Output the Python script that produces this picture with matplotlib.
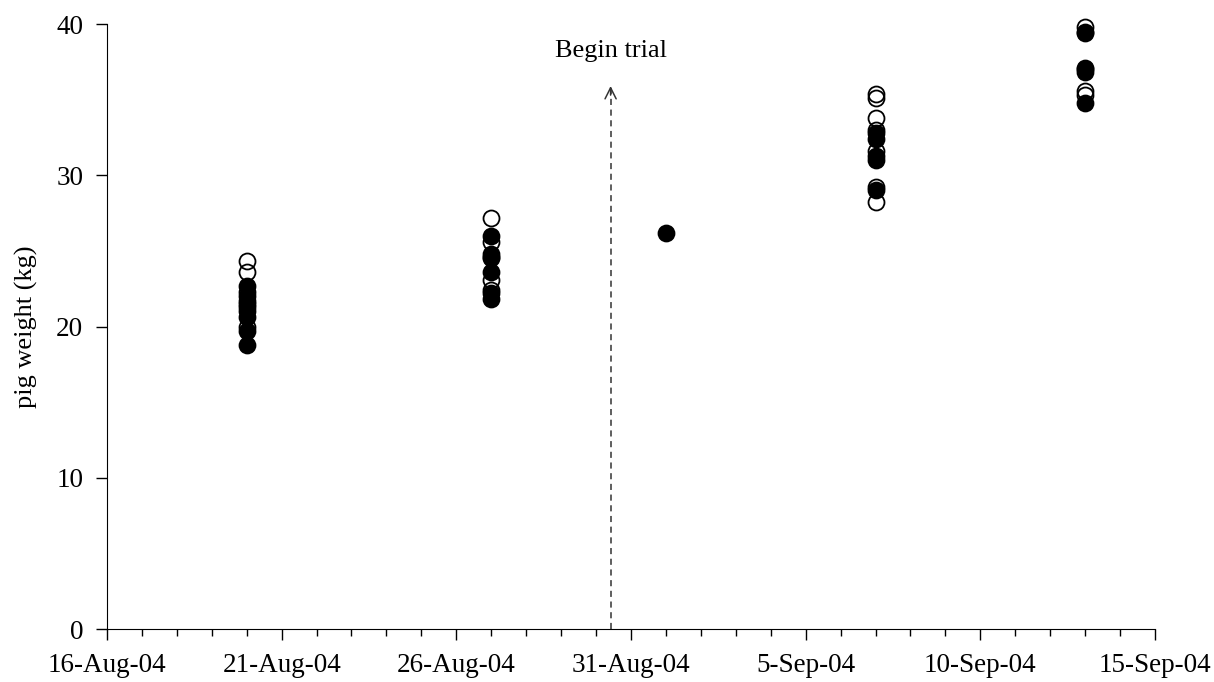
import datetime as dt
import matplotlib
matplotlib.use('Agg')
import matplotlib.pyplot as plt
import matplotlib.dates as mdates
from matplotlib.ticker import FuncFormatter

plt.rcParams['font.family'] = ['Liberation Serif', 'DejaVu Serif']

# weigh days and pig weights (kg), open = one group, filled = the other
dates = [dt.datetime(2004, 8, 20), dt.datetime(2004, 8, 27), dt.datetime(2004, 9, 1),
         dt.datetime(2004, 9, 7), dt.datetime(2004, 9, 13)]
open_w = [
    [24.3, 23.6, 22.3, 21.5, 20.0],
    [27.2, 25.6, 24.5, 23.1, 22.4],
    [],
    [35.4, 35.1, 33.8, 33.0, 31.6, 29.2, 28.2],
    [39.8, 39.5, 37.1, 35.6, 35.3],
]
filled_w = [
    [22.7, 22.0, 21.7, 21.3, 21.0, 20.6, 19.7, 18.8],
    [26.0, 24.8, 24.6, 23.6, 22.2, 21.8],
    [26.2],
    [32.8, 32.4, 31.3, 31.0, 29.0],
    [39.4, 37.0, 36.8, 34.8],
]
trial_start = dt.datetime(2004, 8, 30, 10)
arrow_top = 35.9
x_start = dt.datetime(2004, 8, 16)
x_end = dt.datetime(2004, 9, 15)
y_ticks = [0, 10, 20, 30, 40]

fig = plt.figure(figsize=(12.14, 6.82), dpi=100)
ax = fig.add_axes([0.0881, 0.0777, 0.8633, 0.8871])

for d, ws in zip(dates, open_w):
    ax.plot([d] * len(ws), ws, 'o', ms=11.5, mfc='none', mec='black', mew=1.3,
            ls='none', clip_on=False)
for d, ws in zip(dates, filled_w):
    ax.plot([d] * len(ws), ws, 'o', ms=11.5, mfc='black', mec='black', mew=1.3,
            ls='none', clip_on=False)

# dashed "begin trial" arrow
ax.vlines(trial_start, 0, arrow_top, colors='#333333', linestyles=(0, (4, 3)), lw=1.1)
ax.annotate('', xy=(trial_start, arrow_top), xytext=(trial_start, arrow_top - 0.6),
            arrowprops=dict(arrowstyle='->', color='#333333', lw=1.1,
                            mutation_scale=20, shrinkA=0, shrinkB=0))
ax.text(trial_start, 38.2, 'Begin trial', ha='center', va='center', fontsize=19)

ax.set_xlim(x_start, x_end)
ax.set_ylim(0, 40)
major = [x_start + dt.timedelta(days=5 * i) for i in range(7)]
ax.set_xticks(major)
ax.xaxis.set_minor_locator(mdates.DayLocator())
ax.xaxis.set_major_formatter(FuncFormatter(
    lambda v, p: '%d-%s' % (mdates.num2date(v).day, mdates.num2date(v).strftime('%b-%y'))))
ax.set_yticks(y_ticks)

for s in ['top', 'right']:
    ax.spines[s].set_visible(False)
ax.tick_params(axis='both', which='major', length=8, width=1, labelsize=19.5, direction='out')
ax.tick_params(axis='x', which='minor', length=5, width=1)
ax.tick_params(axis='x', pad=9)
ax.tick_params(axis='y', pad=9)
ax.set_ylabel('pig weight (kg)', fontsize=19, labelpad=13)

plt.savefig('out.png', dpi=100)
